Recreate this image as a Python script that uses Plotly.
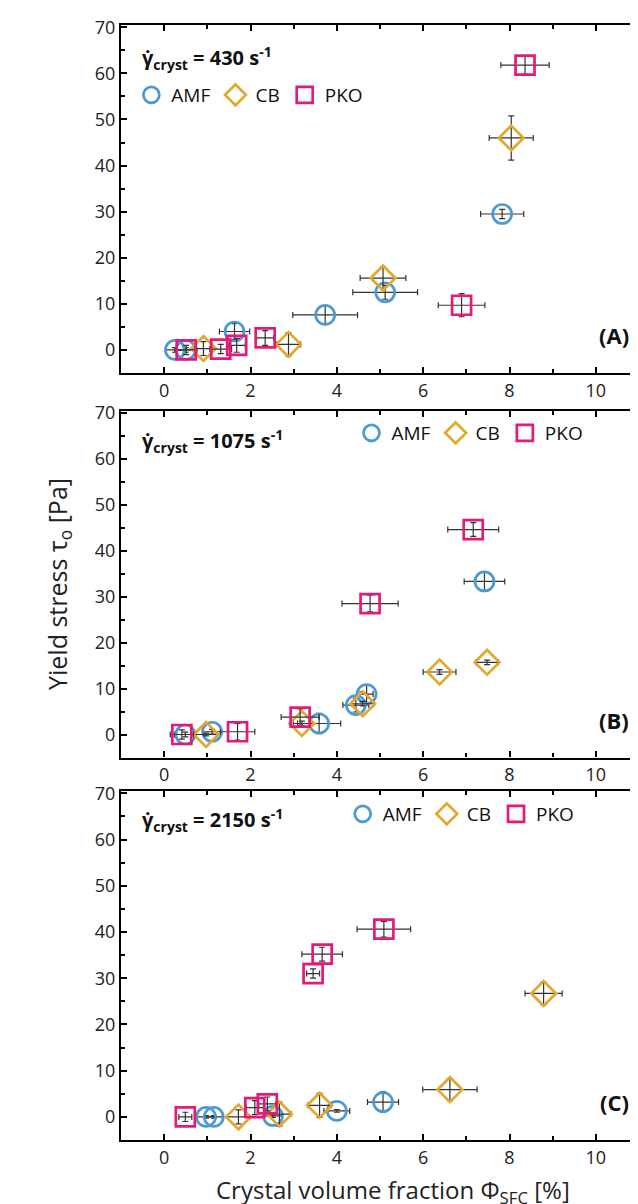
import plotly.graph_objects as go

# ---------------- data ----------------
series_names = ["AMF", "CB", "PKO"]
panel_labels = ["(A)", "(B)", "(C)"]
shear_rates = ["430", "1075", "2150"]

# Panel A
a_amf_x = [0.25, 0.50, 1.63, 3.73, 5.12, 7.83]
a_amf_y = [0.0, 0.0, 4.0, 7.6, 12.5, 29.5]
a_amf_xe = [0.2, 0.2, 0.35, 0.75, 0.75, 0.5]
a_amf_ye = [0.5, 0.5, 1.7, 2.0, 1.5, 1.0]
a_cb_x = [0.91, 2.88, 5.07, 8.04]
a_cb_y = [0.3, 1.2, 15.6, 46.0]
a_cb_xe = [0.2, 0.28, 0.53, 0.51]
a_cb_ye = [1.5, 2.5, 2.4, 4.8]
a_pko_x = [0.51, 1.31, 1.68, 2.34, 6.89, 8.36]
a_pko_y = [0.0, 0.2, 1.0, 2.6, 9.7, 61.8]
a_pko_xe = [0.25, 0.25, 0.2, 0.2, 0.54, 0.56]
a_pko_ye = [1.0, 1.0, 1.5, 1.6, 2.5, 2.0]

# Panel B
b_amf_x = [0.49, 1.11, 3.59, 4.44, 4.69, 7.42]
b_amf_y = [0.0, 0.6, 2.4, 6.4, 8.8, 33.3]
b_amf_xe = [0.25, 0.2, 0.5, 0.3, 0.15, 0.47]
b_amf_ye = [0.5, 0.5, 2.2, 1.5, 2.0, 2.0]
b_cb_x = [0.97, 3.19, 4.60, 6.38, 7.48]
b_cb_y = [0.0, 2.4, 6.7, 13.6, 15.7]
b_cb_xe = [0.25, 0.2, 0.26, 0.38, 0.26]
b_cb_ye = [0.3, 0.5, 0.5, 0.5, 0.5]
b_pko_x = [0.41, 1.70, 3.15, 4.77, 7.16]
b_pko_y = [0.0, 0.6, 3.8, 28.5, 44.6]
b_pko_xe = [0.27, 0.4, 0.44, 0.65, 0.59]
b_pko_ye = [1.0, 1.8, 1.8, 1.8, 1.5]

# Panel C
c_amf_x = [0.97, 1.15, 2.52, 4.00, 5.07]
c_amf_y = [0.0, 0.0, 0.2, 1.3, 3.2]
c_amf_xe = [0.2, 0.2, 0.2, 0.3, 0.36]
c_amf_ye = [0.3, 0.3, 0.3, 0.3, 2.2]
c_cb_x = [1.72, 2.67, 3.60, 6.62, 8.79]
c_cb_y = [0.0, 0.6, 2.5, 5.9, 26.7]
c_cb_xe = [0.25, 0.27, 0.27, 0.63, 0.43]
c_cb_ye = [1.5, 2.6, 2.6, 2.4, 2.4]
c_pko_x = [0.49, 2.10, 2.39, 3.45, 3.66, 5.09]
c_pko_y = [0.0, 2.0, 2.8, 31.0, 35.2, 40.6]
c_pko_xe = [0.15, 0.2, 0.2, 0.15, 0.47, 0.62]
c_pko_ye = [1.0, 1.5, 1.5, 1.0, 1.5, 1.7]

panels = [
    [(a_amf_x, a_amf_y, a_amf_xe, a_amf_ye), (a_cb_x, a_cb_y, a_cb_xe, a_cb_ye), (a_pko_x, a_pko_y, a_pko_xe, a_pko_ye)],
    [(b_amf_x, b_amf_y, b_amf_xe, b_amf_ye), (b_cb_x, b_cb_y, b_cb_xe, b_cb_ye), (b_pko_x, b_pko_y, b_pko_xe, b_pko_ye)],
    [(c_amf_x, c_amf_y, c_amf_xe, c_amf_ye), (c_cb_x, c_cb_y, c_cb_xe, c_cb_ye), (c_pko_x, c_pko_y, c_pko_xe, c_pko_ye)],
]

# ---------------- style ----------------
colors = ["#4A9AD6", "#E3A82B", "#E6197B"]
symbols = ["circle-open", "diamond-open", "square-open"]
FONT = "Open Sans"
W, H = 638, 1204
ML, MR, MT, MB = 113, 5, 17, 72
plot_h = H - MT - MB

def ydom(top_px, bot_px):
    return [(H - MB - bot_px) / plot_h, (H - MB - top_px) / plot_h]

domains = [ydom(17, 365), ydom(402.5, 749.5), ydom(783, 1132)]
legend_pos = [(0.02, (H - MB - 87) / plot_h), (0.445, (H - MB - 425) / plot_h), (0.428, (H - MB - 806) / plot_h)]
annot_y = [(H - MB - 50) / plot_h, (H - MB - 433) / plot_h, (H - MB - 812) / plot_h]

fig = go.Figure()
legend_ids = ["legend", "legend2", "legend3"]

for p, pdata in enumerate(panels):
    xa = "x" if p == 0 else f"x{p+1}"
    ya = "y" if p == 0 else f"y{p+1}"
    for s, (xs, ys, xe, ye) in enumerate(pdata):
        fig.add_trace(go.Scatter(
            x=xs, y=ys, mode="markers", name=series_names[s],
            xaxis=xa, yaxis=ya, legend=legend_ids[p],
            marker=dict(symbol=symbols[s], size=19, color=colors[s],
                        line=dict(width=2.7, color=colors[s])),
            error_x=dict(type="data", array=xe, color="#333333", thickness=1.2, width=3),
            error_y=dict(type="data", array=ye, color="#333333", thickness=1.2, width=3),
        ))

axis_common = dict(showline=True, linecolor="black", linewidth=2.2, mirror="ticks",
                   ticks="inside", tickwidth=1.5, tickcolor="black", ticklen=6,
                   showgrid=False, zeroline=False,
                   tickfont=dict(family=FONT, size=18, color="#222222"))

layout = dict(
    width=W, height=H, margin=dict(l=ML, r=MR, t=MT, b=MB),
    plot_bgcolor="white", paper_bgcolor="white",
    font=dict(family=FONT, color="#111111"),
)
for p in range(3):
    xk = "xaxis" if p == 0 else f"xaxis{p+1}"
    yk = "yaxis" if p == 0 else f"yaxis{p+1}"
    xan = "y" if p == 0 else f"y{p+1}"
    yan = "x" if p == 0 else f"x{p+1}"
    layout[xk] = dict(axis_common, range=[-1, 11], dtick=2, tick0=0, anchor=xan,
                      domain=[0, 1],
                      minor=dict(ticks="inside", dtick=1, ticklen=4, tickwidth=1.5, tickcolor="black"))
    layout[yk] = dict(axis_common, range=[-5, 70.5], dtick=10, tick0=0, anchor=yan,
                      domain=domains[p],
                      minor=dict(ticks="inside", dtick=5, ticklen=4, tickwidth=1.5, tickcolor="black"))
    lx, ly = legend_pos[p]
    layout[legend_ids[p]] = dict(x=lx, y=ly, xanchor="left", yanchor="middle",
                                 orientation="h", bgcolor="rgba(0,0,0,0)",
                                 font=dict(family=FONT, size=19, color="#111111"),
                                 itemwidth=30, tracegroupgap=0)

layout["yaxis2"]["title"] = dict(text="Yield stress τ<sub>o</sub> [Pa]",
                                 font=dict(family=FONT, size=25, color="#222222"),
                                 standoff=20)

annotations = []
for p in range(3):
    xr = "x domain" if p == 0 else f"x{p+1} domain"
    yr = "y domain" if p == 0 else f"y{p+1} domain"
    annotations.append(dict(
        text=f"<b>γ̇<sub>cryst</sub> = {shear_rates[p]} s<sup>-1</sup></b>",
        xref="paper", yref="paper", x=0.036, y=annot_y[p], xanchor="left", yanchor="middle",
        showarrow=False, font=dict(family=FONT, size=20, color="#111111")))
    annotations.append(dict(
        text=f"<b>{panel_labels[p]}</b>", xref=xr, yref=yr, x=0.985, y=0.06,
        xanchor="right", yanchor="bottom", showarrow=False,
        font=dict(family=FONT, size=22, color="#111111")))
annotations.append(dict(
    text="Crystal volume fraction Φ<sub>SFC</sub> [%]",
    xref="paper", yref="paper", x=0.525, y=(H - MB - 1203) / plot_h,
    xanchor="center", yanchor="bottom", showarrow=False,
    font=dict(family=FONT, size=24, color="#222222")))
layout["annotations"] = annotations

fig.update_layout(**layout)
fig.write_html("out.html")
